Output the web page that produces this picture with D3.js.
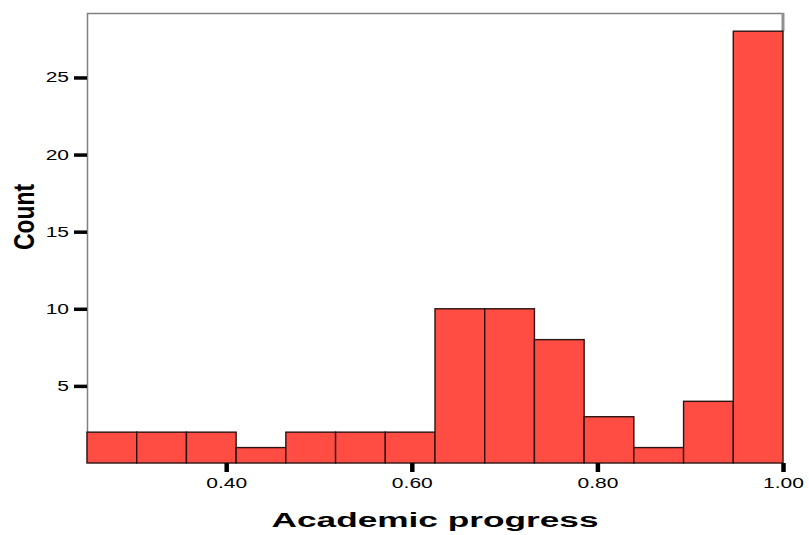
<!DOCTYPE html>
<html>
<head>
<meta charset="utf-8">
<script src="https://cdn.jsdelivr.net/npm/d3@7"></script>
<style>
  body { margin: 0; background: #fff; }
  text { font-family: "Liberation Sans", Arial, sans-serif; fill: #000; }
</style>
</head>
<body>
<div id="chart"></div>
<script>
// histogram of academic progress
const binMin = 0.25;
const binMax = 1.0;
const counts = [2, 2, 2, 1, 2, 2, 2, 10, 10, 8, 3, 1, 4, 28];
const xTicks = [0.40, 0.60, 0.80, 1.00];
const yTicks = [5, 10, 15, 20, 25];
const xTitle = "Academic progress";
const yTitle = "Count";

const width = 809, height = 535;
const margin = {top: 13, right: 26, bottom: 72, left: 87};
const innerW = width - margin.left - margin.right;
const innerH = height - margin.top - margin.bottom;

const binW = (binMax - binMin) / counts.length;
const bins = counts.map((c, i) => ({x0: binMin + i * binW, x1: binMin + (i + 1) * binW, count: c}));

const svg = d3.select("#chart").append("svg")
    .attr("width", width)
    .attr("height", height);

const g = svg.append("g")
    .attr("transform", "translate(" + margin.left + "," + margin.top + ")");

const x = d3.scaleLinear()
    .domain([binMin, binMax])
    .range([0, innerW]);

const y = d3.scaleLinear()
    .domain([0, 29.18])
    .range([innerH, 0]);

// frame (top, left, right)
g.append("path")
    .attr("d", `M0.5,${innerH} V0.5 H${innerW} V${y(28)}`)
    .attr("fill", "none")
    .attr("stroke", "#808080")
    .attr("stroke-width", 1.5);
g.append("line")
    .attr("x1", innerW).attr("x2", innerW)
    .attr("y1", 0).attr("y2", y(28))
    .attr("stroke", "#909090")
    .attr("stroke-width", 3);

// bars
g.selectAll("rect.bar")
    .data(bins)
    .enter().append("rect")
    .attr("class", "bar")
    .attr("x", d => x(d.x0))
    .attr("y", d => y(d.count))
    .attr("width", d => x(d.x1) - x(d.x0))
    .attr("height", d => y(0) - y(d.count))
    .attr("fill", "#ff4d43")
    .attr("stroke", "#2a1412")
    .attr("stroke-width", 1.4);

// stretch labels a bit wider, like the original
function widen(sel, k) {
    sel.each(function() {
        const len = this.getComputedTextLength();
        d3.select(this)
            .attr("textLength", len * k)
            .attr("lengthAdjust", "spacingAndGlyphs");
    });
}

const xAxis = d3.axisBottom(x)
    .tickValues(xTicks)
    .tickFormat(d3.format(".2f"))
    .tickSize(9)
    .tickPadding(6);

const xg = g.append("g")
    .attr("transform", "translate(0," + innerH + ")")
    .call(xAxis);
xg.select(".domain").remove();
xg.selectAll(".tick line").attr("stroke", "#000").attr("stroke-width", 4.5);
xg.selectAll(".tick text").style("font-size", "14px").call(widen, 1.5);

const yAxis = d3.axisLeft(y)
    .tickValues(yTicks)
    .tickSize(13)
    .tickPadding(5);

const yg = g.append("g").call(yAxis);
yg.select(".domain").remove();
yg.selectAll(".tick line").attr("stroke", "#000").attr("stroke-width", 3.5);
yg.selectAll(".tick text").style("font-size", "14px").call(widen, 1.5);

// axis titles
svg.append("text")
    .attr("x", margin.left + innerW / 2)
    .attr("y", 527)
    .attr("text-anchor", "middle")
    .style("font-size", "19.5px")
    .style("font-weight", "bold")
    .attr("textLength", 327)
    .attr("lengthAdjust", "spacingAndGlyphs")
    .text(xTitle);

svg.append("text")
    .attr("transform", "translate(34,217) rotate(-90)")
    .attr("text-anchor", "middle")
    .style("font-size", "29px")
    .style("font-weight", "bold")
    .attr("textLength", 66)
    .attr("lengthAdjust", "spacingAndGlyphs")
    .text(yTitle);
</script>
</body>
</html>
